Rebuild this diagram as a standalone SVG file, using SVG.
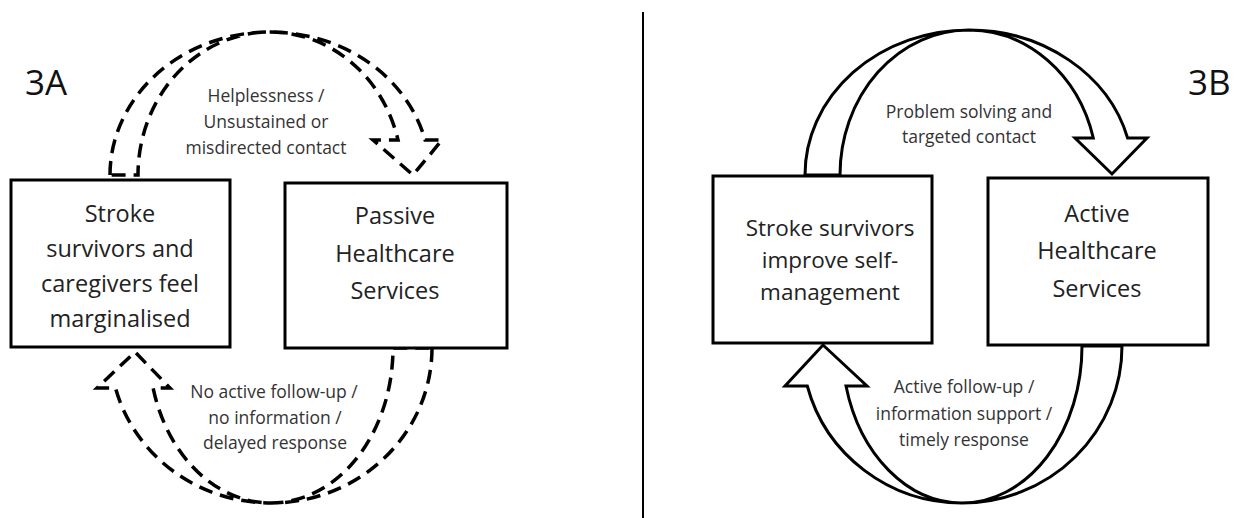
<svg xmlns="http://www.w3.org/2000/svg" width="1249" height="518" viewBox="0 0 1249 518">
<style>
.box{fill:#fff;stroke:#000;stroke-width:3}
.t{font-family:"Open Sans","Liberation Sans",sans-serif;fill:#222;text-anchor:middle}
.big{font-size:23.5px}
.mid{font-size:22.5px}
.lab{font-size:17.5px;fill:#333}
.hd{font-family:"Open Sans","Liberation Sans",sans-serif;font-size:35px;fill:#111}
.solid{fill:none;stroke:#000;stroke-width:3;stroke-linejoin:miter}
.dash{fill:none;stroke:#000;stroke-width:3.5;stroke-dasharray:14 8}
</style>
<rect width="1249" height="518" fill="#fff"/>
<line x1="643" y1="12" x2="643" y2="518" stroke="#000" stroke-width="2"/>
<text class="hd" x="25" y="95">3A</text>
<text class="hd" x="1188" y="95">3B</text>
<g id="connectors">
  <g id="a3-top">
    <path class="dash" d="M110,175 A160,143 0 0 1 270,32 A160,143 0 0 1 425.1,140 L442,140 L413,175 L373,140 L398,140 A132,143 0 0 0 270,32 A132,143 0 0 0 138,175 Z"/>
  </g>
  <g id="a3-bottom">
    <path class="dash" d="M432,348 A161,155 0 0 1 271,503 A161,155 0 0 1 115.5,388 L97,388 L135,352 L170,388 L153.1,388 A122,155 0 0 0 271,503 A122,155 0 0 0 393,348 Z"/>
  </g>
  <g id="b3-top">
    <path class="solid" d="M805,175 A164,145 0 0 1 969,30 A164,145 0 0 1 1127.6,138 L1147,138 L1112,174 L1075,138 L1093.3,138 A128.6,145 0 0 0 969,30 A128.6,145 0 0 0 840,175 Z"/>
  </g>
  <g id="b3-bottom">
    <path class="solid" d="M1122,346 A160,157 0 0 1 962,503 A160,157 0 0 1 807.3,386 L785,386 L823,345 L867,386 L846,386 A120,157 0 0 0 962,503 A120,157 0 0 0 1082,346 Z"/>
  </g>
  <g class="t lab">
    <text x="266" y="102">Helplessness /</text>
    <text x="266" y="128">Unsustained or</text>
    <text x="266" y="154">misdirected contact</text>
    <text x="274" y="398">No active follow-up /</text>
    <text x="275" y="424">no information /</text>
    <text x="275" y="449">delayed response</text>
    <text x="969" y="118">Problem solving and</text>
    <text x="969" y="143">targeted contact</text>
    <text x="964" y="393">Active follow-up /</text>
    <text x="964" y="420">information support /</text>
    <text x="964" y="446">timely response</text>
  </g>
</g>
<g id="node-marginalised">
  <rect class="box" x="11" y="180" width="219" height="167"/>
  <text class="t big" x="120" y="222">Stroke</text>
  <text class="t big" x="120" y="257">survivors and</text>
  <text class="t big" x="120" y="292">caregivers feel</text>
  <text class="t big" x="120" y="327">marginalised</text>
</g>
<g id="node-passive">
  <rect class="box" x="285" y="183" width="222" height="165"/>
  <text class="t big" x="395" y="224">Passive</text>
  <text class="t big" x="395" y="262">Healthcare</text>
  <text class="t big" x="395" y="299">Services</text>
</g>
<g id="node-selfmanagement">
  <rect class="box" x="713" y="176" width="219" height="167"/>
  <text class="t mid" x="830" y="236">Stroke survivors</text>
  <text class="t mid" x="830" y="268">improve self-</text>
  <text class="t mid" x="830" y="300">management</text>
</g>
<g id="node-active">
  <rect class="box" x="988" y="178" width="220" height="167"/>
  <text class="t big" x="1097" y="222">Active</text>
  <text class="t big" x="1097" y="259">Healthcare</text>
  <text class="t big" x="1097" y="297">Services</text>
</g>
</svg>
